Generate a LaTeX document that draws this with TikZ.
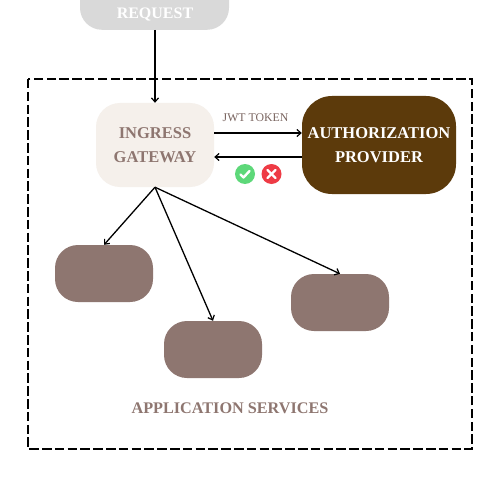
\documentclass[tikz,border=0pt]{standalone}
\usepackage{fontspec}
\setmainfont{Liberation Serif}
\usetikzlibrary{arrows.meta}
\definecolor{reqgrey}{HTML}{D9D9D9}
\definecolor{gatefill}{HTML}{F5F0EB}
\definecolor{authbrown}{HTML}{5C3A0B}
\definecolor{svcbrown}{HTML}{8E7670}
\definecolor{okgreen}{HTML}{5DD879}
\definecolor{badred}{HTML}{EE3B45}
\tikzset{
  box/.style={rounded corners=#1, shape=rectangle, draw=none, inner sep=0pt, align=center, font=\bfseries\fontsize{16.5}{24}\selectfont},
  service/.style={box=23pt, fill=svcbrown, minimum width=98pt, minimum height=57pt},
  link/.style={draw=black, line width=1.3pt, -{Straight Barb[length=4pt,width=7pt,line width=1.2pt]}},
  badge/.style={circle, minimum size=20pt, inner sep=0pt},
  tickstroke/.style={draw=white, line width=2.4pt}
}
\begin{document}
\begin{tikzpicture}[x=1pt,y=-1pt]
\useasboundingbox (0,0) rectangle (500,500);
\clip (0,0) rectangle (500,500);
\fill[white] (0,0) rectangle (500,500);
\draw[black, line width=1.25pt, dash pattern=on 9.5pt off 3.3pt] (28,79) rectangle (472,449);

\node[box=22pt, fill=reqgrey, minimum width=149pt, minimum height=70pt, anchor=south] (request) at (154.5,30) {};
\node[font=\bfseries\fontsize{16}{20}\selectfont, text=white] (requestlabel) at (155,15) {REQUEST};

\node[box=24pt, fill=gatefill, text=svcbrown, minimum width=118pt, minimum height=84pt] (gateway) at (155,145) {INGRESS\\GATEWAY};
\node[box=30pt, fill=authbrown, text=white, minimum width=154pt, minimum height=98pt] (auth) at (379,145) {AUTHORIZATION\\PROVIDER};
\node[service] (svcleft) at (104,273.5) {};
\node[service] (svcmid) at (213,349.5) {};
\node[service] (svcright) at (340,302.5) {};

\node[font=\fontsize{11.8}{12}\selectfont, text=svcbrown!85!black] (jwt) at (255.5,118) {JWT TOKEN};
\node[font=\bfseries\fontsize{16.2}{20}\selectfont, text=svcbrown] (apps) at (230,408) {APPLICATION SERVICES};

\coordinate (jwtstart) at (gateway.east |- 0,133);
\coordinate (jwtend) at (auth.west |- 0,133);
\coordinate (retstart) at (auth.west |- 0,157);
\coordinate (retend) at (gateway.east |- 0,157);

\draw[link] (request.south -| gateway.north) -- (gateway.north);
\draw[link] (jwtstart) -- (jwtend);
\draw[link, line width=1.6pt] (retstart) -- (retend);
\draw[link] (gateway.south) -- (svcleft.north);
\draw[link] (gateway.south) -- (svcmid.north);
\draw[link] (gateway.south) -- (svcright.north);

\node[badge, fill=okgreen] (ok) at (245,174) {};
\draw[tickstroke, line cap=round, line join=round] (240.5,174.5) -- (243.5,177.5) -- (249.5,171);
\node[badge, fill=badred] (bad) at (271.5,174) {};
\draw[tickstroke, line cap=round] (267.5,170) -- (275.5,178);
\draw[tickstroke, line cap=round] (275.5,170) -- (267.5,178);
\end{tikzpicture}
\end{document}
